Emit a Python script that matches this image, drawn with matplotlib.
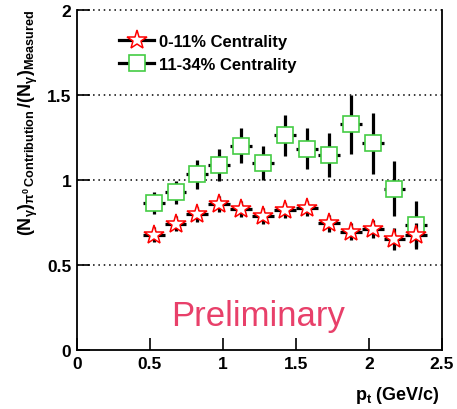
import matplotlib
matplotlib.use("Agg")
import matplotlib.pyplot as plt
from matplotlib.lines import Line2D

plt.rcParams['font.family'] = ['Liberation Sans', 'DejaVu Sans']
plt.rcParams['mathtext.fontset'] = 'custom'
plt.rcParams['mathtext.rm'] = 'Liberation Sans:bold'
plt.rcParams['mathtext.bf'] = 'Liberation Sans:bold'
plt.rcParams['mathtext.it'] = 'Liberation Sans:bold'
plt.rcParams['mathtext.default'] = 'bf'

pt = [0.525, 0.675, 0.825, 0.975, 1.125, 1.275, 1.425, 1.575, 1.725, 1.875, 2.025, 2.175, 2.325]
pt_err = [0.075] * 13

central = [0.678, 0.744, 0.799, 0.858, 0.829, 0.789, 0.821, 0.833, 0.746, 0.695, 0.711, 0.652, 0.676]
central_err = [0.045, 0.045, 0.045, 0.045, 0.045, 0.045, 0.045, 0.045, 0.05, 0.05, 0.055, 0.065, 0.07]

midcentral = [0.864, 0.927, 1.034, 1.089, 1.201, 1.103, 1.263, 1.185, 1.146, 1.328, 1.216, 0.950, 0.735]
midcentral_err = [0.065, 0.07, 0.085, 0.093, 0.103, 0.1, 0.12, 0.12, 0.128, 0.172, 0.181, 0.159, 0.14]

labels = ['0-11% Centrality', '11-34% Centrality']

fig = plt.figure(figsize=(4.57, 4.10), dpi=100)
ax = fig.add_axes([0.1685, 0.144, 0.7985, 0.829])

ax.set_xlim(0, 2.5)
ax.set_ylim(0, 2)

for yv in [0.5, 1.0, 1.5, 2.0]:
    ax.axhline(yv, color='black', linestyle=(0, (1, 2.5)), linewidth=1.1, zorder=1, clip_on=False)

ax.errorbar(pt, midcentral, xerr=pt_err, yerr=midcentral_err, fmt='none',
            ecolor='black', elinewidth=2.3, capsize=0, zorder=2)
ax.plot(pt, midcentral, linestyle='none', marker='s', markersize=11.5,
        mfc='white', mec='#44cc44', mew=1.2, zorder=3)

ax.errorbar(pt, central, xerr=pt_err, yerr=central_err, fmt='none',
            ecolor='black', elinewidth=2.3, capsize=0, zorder=4)
ax.plot(pt, central, linestyle='none', marker='*', markersize=15,
        mfc='white', mec='red', mew=1.1, zorder=5)

h1 = Line2D([], [], color='black', lw=2.3, marker='*', markersize=15, mfc='white', mec='red', mew=1.1)
h2 = Line2D([], [], color='black', lw=2.3, marker='s', markersize=11.5, mfc='white', mec='#44cc44', mew=1.2)
leg = ax.legend([h1, h2], labels, loc='upper left', bbox_to_anchor=(0.075, 0.975),
                frameon=False, handlelength=2.1, handletextpad=0.3, labelspacing=0.5,
                prop={'weight': 'bold', 'size': 12})

ax.text(1.24, 0.2, 'Preliminary', color='#e8406a', fontsize=25, ha='center', va='center')

ax.set_xticks([0, 0.5, 1, 1.5, 2, 2.5])
ax.set_xticklabels(['0', '0.5', '1', '1.5', '2', '2.5'])
ax.set_yticks([0, 0.5, 1, 1.5, 2])
ax.set_yticklabels(['0', '0.5', '1', '1.5', '2'])
ax.tick_params(direction='in', length=9, width=1.2, labelsize=12.5, pad=4)
for lab in ax.get_xticklabels() + ax.get_yticklabels():
    lab.set_fontweight('bold')
for s in ax.spines.values():
    s.set_linewidth(1.3)
ax.spines['top'].set_visible(False)

fig.text(0.963, 0.025, r'$p_{t}$ (GeV/c)', ha='right', va='baseline', fontsize=13, fontweight='bold')
fig.text(0.062, 0.70, r'$(N_{\gamma})_{\pi^{0}\,Contribution}\,/(N_{\gamma})_{Measured}$',
         rotation=90, ha='center', va='center', fontsize=13)

fig.savefig('out.png', dpi=100)
